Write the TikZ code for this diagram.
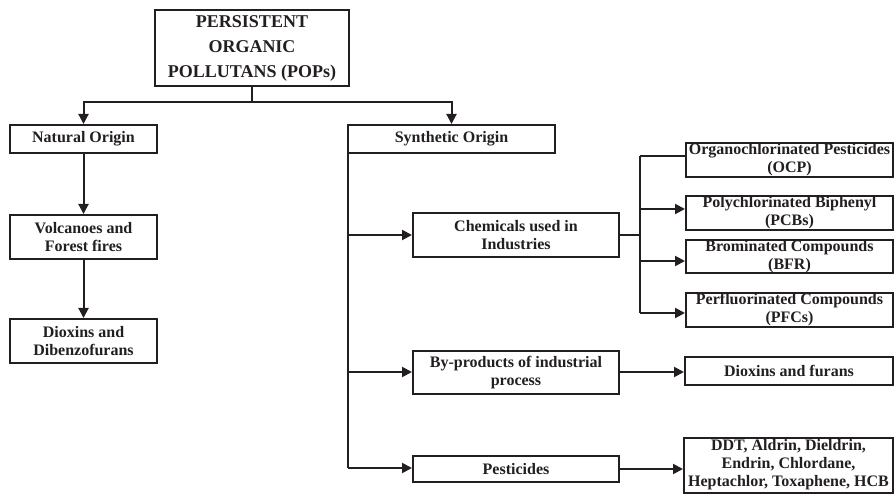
\documentclass[tikz,border=0pt]{standalone}
\usepackage{fontspec}
\setmainfont{Liberation Serif}
\usetikzlibrary{arrows.meta}
\definecolor{ink}{RGB}{35,31,32}
\begin{document}
\begin{tikzpicture}[x=1pt,y=-1pt,
  box/.style={draw=ink, line width=2pt, fill=white, inner sep=0pt,
    align=center, font=\fontsize{16}{18}\selectfont\bfseries, text=ink},
  link/.style={draw=ink, line width=2pt},
  arr/.style={link, -{Triangle[length=10pt,width=10pt]}}]
\useasboundingbox (0,0) rectangle (894,494);

% root
\node[box, minimum width=194pt, minimum height=76pt,
      font=\fontsize{18}{25}\selectfont\bfseries] (pop) at (252,48)
  {PERSISTENT\\ORGANIC\\POLLUTANS (POPs)};

% natural branch
\node[box, minimum width=147pt, minimum height=28pt] (nat) at (83.5,139) {Natural Origin};
\node[box, minimum width=147pt, minimum height=44pt] (vol) at (83.5,237) {Volcanoes and\\Forest fires};
\node[box, minimum width=147pt, minimum height=44pt] (dbf) at (83.5,341) {Dioxins and\\Dibenzofurans};

% synthetic branch
\node[box, minimum width=207pt, minimum height=28pt] (syn) at (451.5,139) {Synthetic Origin};
\node[box, minimum width=206pt, minimum height=44pt] (chem) at (516,235) {Chemicals used in\\Industries};
\node[box, minimum width=206pt, minimum height=43pt] (byp) at (516,372.5) {By-products of industrial\\process};
\node[box, minimum width=206pt, minimum height=26pt] (pest) at (516,469) {Pesticides};

% industrial chemicals
\node[box, minimum width=207pt, minimum height=34pt] (ocp) at (789.5,160) {Organochlorinated Pesticides\\(OCP)};
\node[box, minimum width=207pt, minimum height=34pt] (pcb) at (789.5,213) {Polychlorinated Biphenyl\\(PCBs)};
\node[box, minimum width=207pt, minimum height=33pt] (bfr) at (789.5,256.5) {Brominated Compounds\\(BFR)};
\node[box, minimum width=207pt, minimum height=34pt] (pfc) at (789.5,310) {Perfluorinated Compounds\\(PFCs)};

% end products
\node[box, minimum width=208pt, minimum height=28pt] (dfur) at (789,371) {Dioxins and furans};
\node[box, minimum width=209pt, minimum height=55pt] (ddt) at (788.5,465)
  {DDT, Aldrin, Dieldrin,\\Endrin, Chlordane,\\Heptachlor, Toxaphene, HCB};

% root split
\coordinate (split) at (252,102);
\draw[link] (pop.south) -- (split);
\draw[arr] (split) -| (nat.north);
\draw[arr] (split) -| (syn.north);

% natural chain
\draw[arr] (nat) -- (vol);
\draw[arr] (vol) -- (dbf);

% synthetic bus
\coordinate (sb) at (348,153);
\coordinate (s1) at (348,235);
\coordinate (s2) at (348,372);
\coordinate (s3) at (348,468);
\draw[link] (sb) -- (s3);
\draw[arr] (s1) -- (s1 -| chem.west);
\draw[arr] (s2) -- (s2 -| byp.west);
\draw[arr] (s3) -- (s3 -| pest.west);

% chemicals bus
\coordinate (c0) at (640,235);
\coordinate (c1) at (640,156);
\coordinate (c2) at (640,209);
\coordinate (c3) at (640,261);
\coordinate (c4) at (640,313);
\draw[link] (chem.east) -- (c0);
\draw[link] (c1) -- (c4);
\draw[link] (c1) -- (c1 -| ocp.west);
\draw[arr] (c2) -- (c2 -| pcb.west);
\draw[arr] (c3) -- (c3 -| bfr.west);
\draw[arr] (c4) -- (c4 -| pfc.west);

% products
\coordinate (b0) at (byp.east |- s2);
\draw[arr] (b0) -- (b0 -| dfur.west);
\coordinate (p0) at (pest.east);
\draw[arr] (p0) -- (p0 -| ddt.west);
\end{tikzpicture}
\end{document}
